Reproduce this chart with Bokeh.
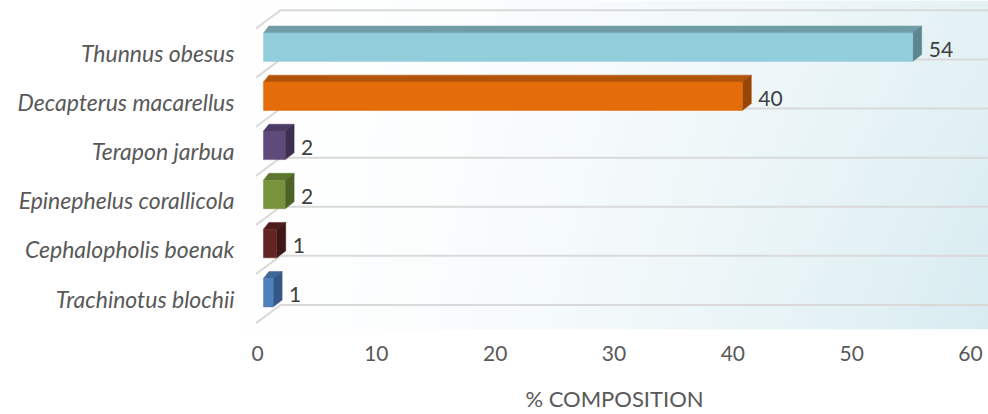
import numpy as np
from bokeh.plotting import figure
from bokeh.models import Range1d, LinearAxis, FixedTicker, ColumnDataSource
from bokeh.core.properties import value
from bokeh.embed import file_html
from bokeh.resources import INLINE

# ---- data ----
categories = ["Thunnus obesus", "Decapterus macarellus", "Terapon jarbua",
              "Epinephelus corallicola", "Cephalopholis boenak", "Trachinotus blochii"]
values = [54.1, 39.9, 1.8, 1.8, 1.1, 0.8]
value_labels = [f"{v:.0f}" for v in values]
front_colors = ["#92CDDC", "#E46C0A", "#604A7B", "#77933C", "#632523", "#4F81BD"]
top_colors = ["#6F9CA7", "#B2530A", "#4B3A61", "#5E7530", "#4E1C1B", "#3F679A"]
side_colors = ["#5D8691", "#984608", "#3D2F4F", "#4E6228", "#3F1716", "#355785"]
x_ticks = [0, 10, 20, 30, 40, 50, 60]
x_title = "% COMPOSITION"

FONT = "Lato"
n = len(categories)
ypos = [n - 1 - i for i in range(n)]

# ---- geometry (style) ----
H = 0.29      # half bar height (y units)
DX = 0.75     # depth offset in value units
DY = 0.14     # depth offset in y units
X0, X1 = -23 / 12, (988 - 263) / 12
Y0, Y1 = -0.75, 297.5 / 50

p = figure(width=988, height=414, output_backend="svg", toolbar_location=None,
           x_range=Range1d(X0, X1), y_range=Range1d(Y0, Y1),
           min_border_left=240, min_border_right=0, min_border_top=0,
           min_border_bottom=79, x_axis_type=None, y_axis_type=None)
p.outline_line_color = None
p.background_fill_color = "white"
p.border_fill_color = "white"
p.xgrid.visible = False
p.ygrid.visible = False

# background gradient
W, Hh = 240, 80
gx = np.linspace(0, 1, W)[None, :]
gy = np.linspace(0, 1, Hh)[:, None]  # 0 bottom, 1 top
t = np.clip(gx ** 1.6 * (0.9 - 0.25 * gy) + 0.05 * gx * (1 - gy), 0, 1)
c0 = np.array([255, 255, 255])
c1 = np.array([214, 235, 240])
img = np.empty((Hh, W), dtype=np.uint32)
view = img.view(dtype=np.uint8).reshape((Hh, W, 4))
for k in range(3):
    view[:, :, k] = (c0[k] + (c1[k] - c0[k]) * t).astype(np.uint8)
view[:, :, 3] = 255
p.image_rgba(image=[img], x=X0, y=Y0, dw=X1 - X0, dh=Y1 - Y0)

# grid lines on the back wall and the slanted left wall
grid_y = [k - 0.25 for k in range(n + 1)]
p.segment(x0=[1.42] * len(grid_y), y0=grid_y, x1=[X1] * len(grid_y), y1=grid_y,
          line_color="#D9D9D9", line_width=2)
p.segment(x0=[-0.62] * len(grid_y), y0=[g - 0.37 for g in grid_y],
          x1=[1.42] * len(grid_y), y1=grid_y, line_color="#D9D9D9", line_width=2)

# 3D bars
front_src = ColumnDataSource(dict(left=[0] * n, right=values,
                                  bottom=[y - H for y in ypos], top=[y + H for y in ypos],
                                  color=front_colors))
top_xs, top_ys, side_xs, side_ys = [], [], [], []
for v, y in zip(values, ypos):
    top_xs.append([0, v, v + DX, DX * 0.6])
    top_ys.append([y + H, y + H, y + H + DY, y + H + DY])
    side_xs.append([v, v + DX, v + DX, v])
    side_ys.append([y - H, y - H + DY, y + H + DY, y + H])
p.patches(xs=top_xs, ys=top_ys, fill_color=top_colors, line_color=top_colors, line_width=0.5)
p.patches(xs=side_xs, ys=side_ys, fill_color=side_colors, line_color=side_colors, line_width=0.5)
p.quad(left="left", right="right", bottom="bottom", top="top", source=front_src,
       fill_color="color", line_color="color", line_width=0.5)

# value labels
p.text(x=values, y=ypos, text=value_labels, x_offset=16, y_offset=2,
       text_font=value(FONT), text_font_size="21px", text_color="#404040",
       text_baseline="middle", text_align="left")

# bottom axis (ticks plane)
p.extra_x_ranges = {"ticks": Range1d(-(257 - 240) / 11.883, (988 - 257) / 11.883)}
xa = LinearAxis(x_range_name="ticks", ticker=FixedTicker(ticks=x_ticks),
                axis_label=x_title)
xa.axis_line_color = None
xa.major_tick_line_color = None
xa.minor_tick_line_color = None
xa.major_label_standoff = 10
xa.major_label_text_font = FONT
xa.major_label_text_font_size = "21px"
xa.major_label_text_color = "#595959"
xa.axis_label_standoff = 21
xa.axis_label_text_font = FONT
xa.axis_label_text_font_size = "22px"
xa.axis_label_text_font_style = "normal"
xa.axis_label_text_color = "#595959"
p.add_layout(xa, "below")

# left category axis
p.extra_y_ranges = {"cats": Range1d(-(335 - 303.5) / 50, 303.5 / 50)}
ya = LinearAxis(y_range_name="cats", ticker=FixedTicker(ticks=ypos),
                major_label_overrides={y: c for y, c in zip(ypos, categories)})
ya.axis_line_color = None
ya.major_tick_line_color = None
ya.minor_tick_line_color = None
ya.major_label_standoff = 0
ya.major_label_text_font = FONT
ya.major_label_text_font_size = "23px"
ya.major_label_text_font_style = "italic"
ya.major_label_text_color = "#595959"
p.add_layout(ya, "left")

open("out.html", "w").write(file_html(p, INLINE))
